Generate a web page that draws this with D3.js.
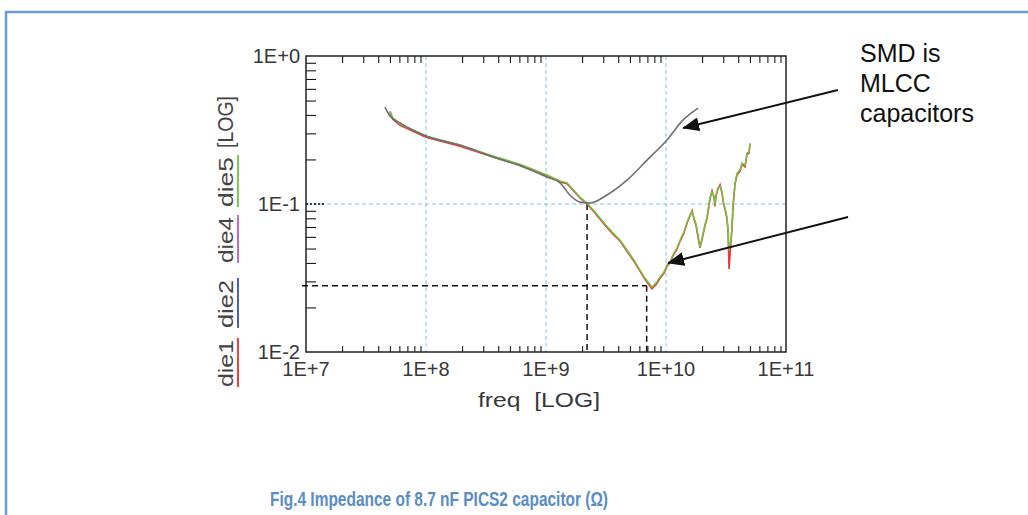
<!DOCTYPE html>
<html>
<head>
<meta charset="utf-8">
<script src="https://cdn.jsdelivr.net/npm/d3@7"></script>
<style>
  body { margin: 0; background: #fff; }
  text { font-family: "Liberation Sans", Arial, sans-serif; }
</style>
</head>
<body>
<svg id="chart" width="1028" height="515"></svg>
<script>
// Data (freq in Hz, impedance in ohm)
const smdFreq = [4.55e7, 4.73e7, 5.01e7, 6.07e7, 1.0e8, 1.92e8, 3.62e8, 6.07e8, 1.02e9, 1.31e9, 1.58e9, 1.92e9, 2.33e9, 3.22e9, 4.73e9, 6.95e9, 1.02e10, 1.39e10, 1.85e10];
const smdZ    = [0.452, 0.425, 0.393, 0.353, 0.288, 0.250, 0.208, 0.181, 0.152, 0.139, 0.115, 0.103, 0.1016, 0.115, 0.145, 0.198, 0.271, 0.370, 0.445];

// both dies measured on the same sweep
const freqSweep = [5.01e7, 5.31e7, 6.07e7, 1.0e8, 1.92e8, 3.62e8, 6.07e8, 1.02e9, 1.31e9, 1.5e9,
  1.92e9, 2.2e9, 2.56e9, 3.10e9, 3.62e9, 4.14e9, 4.73e9, 5.41e9, 6.07e9, 6.68e9,
  7.08e9, 7.64e9, 8.25e9, 8.91e9, 9.62e9, 1.02e10, 1.08e10, 1.14e10, 1.235e10, 1.31e10,
  1.41e10, 1.5e10, 1.585e10, 1.65e10, 1.71e10, 1.78e10, 1.85e10, 1.92e10, 2.0e10, 2.11e10,
  2.2e10, 2.28e10, 2.33e10, 2.42e10, 2.51e10, 2.56e10, 2.61e10, 2.71e10, 2.82e10, 2.93e10,
  2.99e10, 3.10e10, 3.22e10, 3.29e10, 3.35e10, 3.48e10, 3.55e10, 3.62e10, 3.76e10, 3.91e10,
  4.14e10, 4.3e10, 4.55e10, 4.64e10, 4.73e10, 4.92e10, 5.01e10];
const die5Z = [0.425, 0.381, 0.347, 0.288, 0.250, 0.211, 0.186, 0.157, 0.143, 0.139,
  0.111, 0.1016, 0.0883, 0.0732, 0.0637, 0.0571, 0.0489, 0.0418, 0.0358, 0.0316,
  0.0297, 0.0275, 0.0292, 0.0321, 0.0347, 0.0387, 0.0406, 0.0452, 0.0504, 0.0571,
  0.0647, 0.0755, 0.0843, 0.0883, 0.0804, 0.0732, 0.0608, 0.0512, 0.0589, 0.0721,
  0.0817, 0.0985, 0.111, 0.1206, 0.1133, 0.0985, 0.115, 0.1283, 0.132, 0.1206,
  0.106, 0.094, 0.0817, 0.0667, 0.0489, 0.0571, 0.070, 0.0985, 0.139, 0.162,
  0.170, 0.189, 0.183, 0.198, 0.221, 0.2245, 0.258];
const die1Z = [0.418, 0.372, 0.340, 0.283, 0.246, 0.208, 0.183, 0.155, 0.141, 0.137,
  0.110, 0.1000, 0.0870, 0.0720, 0.0625, 0.0562, 0.0480, 0.0410, 0.0352, 0.0310,
  0.0290, 0.0267, 0.0285, 0.0315, 0.0340, 0.0380, 0.0400, 0.0445, 0.0495, 0.0562,
  0.0636, 0.0745, 0.0830, 0.0900, 0.0790, 0.0715, 0.0596, 0.0505, 0.0580, 0.0710,
  0.0805, 0.0970, 0.109, 0.1230, 0.1110, 0.0965, 0.113, 0.1260, 0.135, 0.1180,
  0.104, 0.092, 0.0800, 0.0650, 0.0364, 0.0560, 0.069, 0.0970, 0.136, 0.158,
  0.166, 0.186, 0.178, 0.195, 0.217, 0.220, 0.252];

const legendNames  = ["die1", "die2", "die4", "die5"];
const legendColors = ["#ee4040", "#4a5fc0", "#c66ac6", "#7ccc4e"];

const xTickLabels = ["1E+7", "1E+8", "1E+9", "1E+10", "1E+11"];
const yTickLabels = ["1E-2", "1E-1", "1E+0"];

// reference markers: self resonance and minimum
const srfFreq = 2.2e9, srfZ = 0.1;
const minFreq = 6.9e9, minZ = 0.028;

const svg = d3.select("#chart");

// outer frame of the figure
svg.append("path")
   .attr("d", "M6,515V12H1028")
   .attr("fill", "none")
   .attr("stroke", "#6a9bd4")
   .attr("stroke-width", 2.5);

const x = d3.scaleLog().domain([1e7, 1e11]).range([306, 786]);
const y = d3.scaleLog().domain([1e-2, 1]).range([352, 56]);

const decadesX = [1e7, 1e8, 1e9, 1e10, 1e11];
const decadesY = [1e-2, 1e-1, 1];
const minorX = [];
decadesX.slice(0, -1).forEach(d => { for (let k = 2; k < 10; k++) minorX.push(d * k); });
const minorY = [];
decadesY.slice(0, -1).forEach(d => { for (let k = 2; k < 10; k++) minorY.push(d * k); });

// grid
const grid = svg.append("g")
  .attr("stroke", "#7cc4ee")
  .attr("stroke-width", 1)
  .attr("stroke-dasharray", "4,3");
grid.selectAll("line.vx")
  .data([1e8, 1e9, 1e10])
  .enter().append("line")
  .attr("x1", d => x(d)).attr("x2", d => x(d))
  .attr("y1", y(1)).attr("y2", y(1e-2));
grid.append("line")
  .attr("x1", x(1e7)).attr("x2", x(1e11))
  .attr("y1", y(0.1)).attr("y2", y(0.1));

// axes (ticks inside)
svg.append("g")
  .attr("transform", `translate(0,${y(1e-2)})`)
  .call(d3.axisTop(x).tickValues(minorX).tickSize(6).tickFormat(""))
  .call(g => g.select(".domain").remove());
svg.append("g")
  .attr("transform", `translate(0,${y(1)})`)
  .call(d3.axisBottom(x).tickValues(minorX).tickSize(7).tickFormat(""))
  .call(g => g.select(".domain").remove());
svg.append("g")
  .attr("transform", `translate(${x(1e7)},0)`)
  .call(d3.axisRight(y).tickValues(minorY).tickSize(10).tickFormat(""))
  .call(g => g.select(".domain").remove());

svg.append("line")
  .attr("x1", x(1e7)).attr("x2", x(1e7) + 20)
  .attr("y1", y(0.1)).attr("y2", y(0.1))
  .attr("stroke", "#000").attr("stroke-width", 1.5)
  .attr("stroke-dasharray", "2,2");

svg.append("rect")
  .attr("x", x(1e7)).attr("y", y(1))
  .attr("width", x(1e11) - x(1e7))
  .attr("height", y(1e-2) - y(1))
  .attr("fill", "none")
  .attr("stroke", "#222")
  .attr("stroke-width", 1.5);

// tick labels
svg.selectAll("text.xl")
  .data(decadesX)
  .enter().append("text")
  .attr("x", d => x(d))
  .attr("y", 376)
  .attr("text-anchor", "middle")
  .attr("font-size", 20)
  .attr("fill", "#383838")
  .text((d, i) => xTickLabels[i]);

svg.selectAll("text.yl")
  .data(decadesY)
  .enter().append("text")
  .attr("x", 300)
  .attr("y", d => y(d) + 7)
  .attr("text-anchor", "end")
  .attr("font-size", 20)
  .attr("fill", "#383838")
  .text((d, i) => yTickLabels[i]);

svg.append("text")
  .attr("x", 539).attr("y", 407)
  .attr("text-anchor", "middle")
  .attr("font-size", 21)
  .attr("fill", "#383838")
  .attr("textLength", 122)
  .attr("lengthAdjust", "spacingAndGlyphs")
  .style("white-space", "pre")
  .text("freq  [LOG]");

// black dashed markers
const dash = svg.append("g")
  .attr("stroke", "#111")
  .attr("stroke-width", 1.5)
  .attr("stroke-dasharray", "6,4")
  .attr("fill", "none");
dash.append("line")
  .attr("x1", x(1e7) - 4).attr("x2", x(minFreq))
  .attr("y1", y(minZ)).attr("y2", y(minZ));
dash.append("line")
  .attr("x1", x(minFreq)).attr("x2", x(minFreq))
  .attr("y1", y(minZ)).attr("y2", y(1e-2));
dash.append("line")
  .attr("x1", x(srfFreq)).attr("x2", x(srfFreq))
  .attr("y1", y(srfZ)).attr("y2", y(1e-2));

// curves
const line = d3.line().x(d => x(d[0])).y(d => y(d[1]));

svg.append("path")
  .datum(freqSweep.map((f, i) => [f, die1Z[i]]))
  .attr("d", line)
  .attr("fill", "none")
  .attr("stroke", "#ee3333")
  .attr("stroke-width", 1.6);

svg.append("path")
  .datum(freqSweep.map((f, i) => [f, die5Z[i]]))
  .attr("d", line)
  .attr("fill", "none")
  .attr("stroke", "#72c244")
  .attr("stroke-width", 1.5);

svg.append("path")
  .datum(smdFreq.map((f, i) => [f, smdZ[i]]))
  .attr("d", d3.line().curve(d3.curveMonotoneX).x(d => x(d[0])).y(d => y(d[1])))
  .attr("fill", "none")
  .attr("stroke", "#707070")
  .attr("stroke-width", 1.6);

// y legend (rotated)
const legendPos = [[340, 387], [280, 328], [217, 263], [157, 207]];
const leg = svg.append("g");
legendNames.forEach((name, i) => {
  const [a, b] = legendPos[i];
  leg.append("text")
    .attr("transform", `translate(233,${(a + b) / 2}) rotate(-90)`)
    .attr("text-anchor", "middle")
    .attr("font-size", 21)
    .attr("fill", "#444")
    .attr("textLength", b - a)
    .attr("lengthAdjust", "spacingAndGlyphs")
    .text(name);
  leg.append("line")
    .attr("x1", 238).attr("x2", 238)
    .attr("y1", a - 2).attr("y2", b)
    .attr("stroke", legendColors[i])
    .attr("stroke-width", 2);
});
leg.append("text")
  .attr("transform", "translate(233,122) rotate(-90)")
  .attr("text-anchor", "middle")
  .attr("font-size", 22)
  .attr("fill", "#444")
  .attr("textLength", 52)
  .attr("lengthAdjust", "spacingAndGlyphs")
  .text("[LOG]");

// annotations
const arrows = [
  { tip: [1.39e10, 0.326], tail: [2.71e11, 0.589] },
  { tip: [1.04e10, 0.0399], tail: [3.29e11, 0.0817] }
];
svg.append("defs").append("marker")
  .attr("id", "head")
  .attr("viewBox", "0 0 17 14")
  .attr("refX", 16).attr("refY", 7)
  .attr("markerWidth", 17).attr("markerHeight", 14)
  .attr("markerUnits", "userSpaceOnUse")
  .attr("orient", "auto")
  .append("path")
  .attr("d", "M0,0L17,7L0,14z")
  .attr("fill", "#111");

svg.selectAll("line.arrow")
  .data(arrows)
  .enter().append("line")
  .attr("x1", d => x(d.tail[0])).attr("y1", d => y(d.tail[1]))
  .attr("x2", d => x(d.tip[0])).attr("y2", d => y(d.tip[1]))
  .attr("stroke", "#111")
  .attr("stroke-width", 2)
  .attr("marker-end", "url(#head)");

const note = svg.append("text")
  .attr("x", 860)
  .attr("font-size", 25)
  .attr("fill", "#111");
["SMD is", "MLCC", "capacitors"].forEach((t, i) => {
  note.append("tspan").attr("x", 860).attr("y", 62 + i * 30).text(t);
});

// caption
svg.append("text")
  .attr("x", 439).attr("y", 506)
  .attr("text-anchor", "middle")
  .attr("font-size", 20.5)
  .attr("font-weight", "bold")
  .attr("fill", "#5a8cc6")
  .attr("textLength", 338)
  .attr("lengthAdjust", "spacingAndGlyphs")
  .text("Fig.4 Impedance of 8.7 nF PICS2 capacitor (Ω)");
</script>
</body>
</html>
